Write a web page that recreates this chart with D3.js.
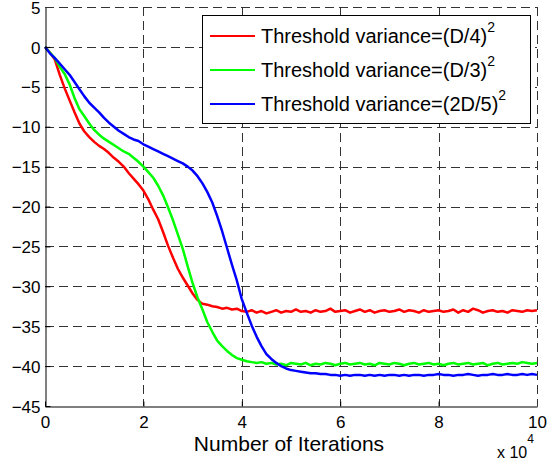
<!DOCTYPE html>
<html lang="en">
<head>
  <meta charset="UTF-8">
  <title>Threshold variance</title>
  <script src="https://cdnjs.cloudflare.com/ajax/libs/d3/7.8.5/d3.min.js"></script>
  <style>
    body { margin: 0; background: #fff; }
    text { font-family: "Liberation Sans", Arial, Helvetica, sans-serif; fill: #000; }
  </style>
</head>
<body>
  <svg width="558" height="463"></svg>
  <script>
    // iterations, in units of 10^4
    const iterations = [
      0.0, 0.1, 0.2, 0.3, 0.4, 0.5, 0.6, 0.7, 0.8, 0.9,
      1.0, 1.1, 1.2, 1.3, 1.4, 1.5, 1.6, 1.7, 1.8, 1.9,
      2.0, 2.1, 2.2, 2.3, 2.4, 2.5, 2.6, 2.7, 2.8, 2.9,
      3.0, 3.1, 3.2, 3.3, 3.4, 3.5, 3.6, 3.7, 3.8, 3.9,
      4.0, 4.1, 4.2, 4.3, 4.4, 4.5, 4.6, 4.7, 4.8, 4.9,
      5.0, 5.1, 5.2, 5.3, 5.4, 5.5, 5.6, 5.7, 5.8, 5.9,
      6.0, 6.1, 6.2, 6.3, 6.4, 6.5, 6.6, 6.7, 6.8, 6.9,
      7.0, 7.1, 7.2, 7.3, 7.4, 7.5, 7.6, 7.7, 7.8, 7.9,
      8.0, 8.1, 8.2, 8.3, 8.4, 8.5, 8.6, 8.7, 8.8, 8.9,
      9.0, 9.1, 9.2, 9.3, 9.4, 9.5, 9.6, 9.7, 9.8, 9.9,
      10.0
    ];

    // Threshold variance=(D/4)^2
    const redValues = [
      0, -0.7, -1.6, -3.5, -5.2, -6.7, -8.2, -9.6, -10.6, -11.3,
      -11.9, -12.4, -12.8, -13.3, -13.9, -14.4, -15.0, -15.8, -16.5, -17.2,
      -18.0, -19.1, -20.4, -21.6, -23.2, -24.9, -26.4, -27.8, -28.9, -29.9,
      -30.9, -31.7, -32.2, -32.3, -32.5, -32.6, -32.8, -32.7, -32.9, -32.8,
      -33.1, -33.2, -33.0, -33.3, -33.1, -33.4, -33.2, -33.0, -33.3, -33.1,
      -33.2, -32.9, -33.2, -33.1, -33.3, -33.0, -33.2, -33.1, -32.8, -33.2,
      -33.1, -33.0, -33.3, -33.1, -32.9, -33.2, -33.0, -33.3, -33.1, -33.0,
      -33.2, -33.1, -32.9, -33.2, -33.0, -33.1, -33.3, -33.0, -33.2, -33.1,
      -33.0, -33.2, -33.1, -32.9, -33.3, -33.0, -33.2, -32.8, -33.0, -33.3,
      -33.1, -33.0, -33.2, -33.1, -33.3, -33.0, -33.1, -33.2, -33.0, -33.1,
      -33.0
    ];

    // Threshold variance=(D/3)^2
    const greenValues = [
      0, -0.7, -1.4, -2.5, -3.4, -4.7, -6.4, -7.8, -8.7, -9.6,
      -10.4, -11.0, -11.5, -11.9, -12.3, -12.7, -13.1, -13.4, -13.9, -14.4,
      -15.0, -15.7, -16.4, -17.4, -18.6, -20.1, -21.7, -23.5, -25.3, -27.5,
      -29.6, -31.4, -32.9, -34.5, -35.7, -36.8, -37.5, -38.1, -38.6, -39.0,
      -39.2, -39.4, -39.5, -39.6, -39.5, -39.7, -39.6, -39.8, -39.7, -39.9,
      -39.6, -39.7, -39.8, -39.6, -39.9, -39.7, -39.8, -39.6, -39.7, -39.9,
      -39.7, -39.6, -39.8, -39.7, -39.6, -39.8, -39.7, -39.9, -39.6, -39.7,
      -39.8, -39.6, -39.7, -39.9, -39.7, -39.6, -39.8, -39.7, -39.6, -39.8,
      -39.7, -39.9, -39.7, -39.6, -39.8, -39.7, -39.6, -39.8, -39.7, -39.6,
      -39.9, -39.7, -39.6, -39.8, -39.7, -39.6, -39.7, -39.5, -39.6, -39.7,
      -39.6
    ];

    // Threshold variance=(2D/5)^2
    const blueValues = [
      0, -0.8, -1.4, -2.1, -2.8, -3.5, -4.4, -5.3, -6.2, -7.0,
      -7.6, -8.2, -8.9, -9.5, -10.0, -10.5, -10.9, -11.3, -11.6, -11.8,
      -12.2, -12.5, -12.8, -13.1, -13.4, -13.7, -14.0, -14.3, -14.6, -15.0,
      -15.5, -16.2, -17.1, -18.2, -19.5, -21.2, -23.1, -25.2, -27.3, -29.3,
      -31.6, -33.3, -34.9, -36.3, -37.5, -38.5, -39.1, -39.6, -40.0, -40.3,
      -40.5, -40.6, -40.7, -40.8, -40.9, -40.9, -41.0, -41.0, -41.1, -41.1,
      -41.2, -41.1, -41.2, -41.1, -41.1, -41.2, -41.1, -41.2, -41.1, -41.2,
      -41.1, -41.1, -41.2, -41.1, -41.2, -41.1, -41.1, -41.2, -41.1, -41.1,
      -41.0, -41.1, -41.1, -41.2, -41.1, -41.1, -41.0, -41.1, -41.2, -41.1,
      -41.1, -41.0, -41.1, -41.1, -41.0, -41.1, -41.1, -41.0, -41.1, -41.0,
      -41.1
    ];

    const xTicks = [0, 2, 4, 6, 8, 10];
    const yTicks = [5, 0, -5, -10, -15, -20, -25, -30, -35, -40, -45];
    const legendLabels = ['(D/4)', '(D/3)', '(2D/5)'];
    const colors = ['#ff0000', '#00ff00', '#0000ff'];

    const pLeft = 45, pRight = 537, pTop = 7, pBottom = 406;
    const svg = d3.select('svg');

    const x = d3.scaleLinear().domain([0, 10]).range([pLeft, pRight]);
    const y = d3.scaleLinear().domain([-45, 5]).range([pBottom, pTop]);

    // grid
    const grid = svg.append('g')
      .attr('stroke', '#333')
      .attr('stroke-width', 1)
      .attr('stroke-dasharray', '9,5');
    grid.selectAll('line.gx')
      .data(xTicks.slice(1))
      .enter()
      .append('line')
      .attr('class', 'gx')
      .attr('x1', d => Math.round(x(d)) + 0.5)
      .attr('x2', d => Math.round(x(d)) + 0.5)
      .attr('y1', pTop)
      .attr('y2', pBottom);
    grid.selectAll('line.gy')
      .data(yTicks.slice(0, -1))
      .enter()
      .append('line')
      .attr('class', 'gy')
      .attr('y1', d => Math.round(y(d)) + 0.5)
      .attr('y2', d => Math.round(y(d)) + 0.5)
      .attr('x1', pLeft)
      .attr('x2', pRight);

    // curves
    const series = [redValues, greenValues, blueValues];
    const line = d3.line()
      .x((d, i) => x(iterations[i]))
      .y(d => y(d));

    svg.append('g')
      .selectAll('path')
      .data(series)
      .enter()
      .append('path')
      .attr('d', d => line(d))
      .attr('fill', 'none')
      .attr('stroke', (d, i) => colors[i])
      .attr('stroke-width', 2.5)
      .attr('stroke-linejoin', 'round');

    // axes (ticks point inwards like matlab)
    const xAxis = svg.append('g')
      .attr('transform', `translate(0,${pBottom + 0.5})`)
      .call(d3.axisBottom(x).tickValues(xTicks).tickSizeInner(-5).tickSizeOuter(0).tickPadding(10));
    const yAxis = svg.append('g')
      .attr('transform', `translate(${pLeft + 0.5},0)`)
      .call(d3.axisLeft(y).tickValues(yTicks).tickSizeInner(-5).tickSizeOuter(0).tickPadding(10));

    [xAxis, yAxis].forEach(a => {
      a.select('.domain').attr('stroke', '#000').attr('stroke-width', 1);
      a.selectAll('.tick line').attr('stroke', '#000');
      a.selectAll('.tick text')
        .style('font-size', '17px')
        .style('font-family', '"Liberation Sans", Arial, sans-serif');
    });
    xAxis.selectAll('.tick text').attr('y', 6).attr('dy', '0.9em');
    yAxis.selectAll('.tick text').attr('x', -5).attr('dy', '0.36em');

    // top and right box edges
    svg.append('line')
      .attr('x1', pLeft).attr('x2', pRight)
      .attr('y1', pTop + 0.5).attr('y2', pTop + 0.5)
      .attr('stroke', '#333').attr('stroke-dasharray', '9,5');
    svg.append('line')
      .attr('x1', pRight + 0.5).attr('x2', pRight + 0.5)
      .attr('y1', pTop).attr('y2', pBottom)
      .attr('stroke', '#333').attr('stroke-dasharray', '9,5');

    // x label
    svg.append('text')
      .attr('x', 289)
      .attr('y', 451)
      .attr('text-anchor', 'middle')
      .style('font-size', '21px')
      .text('Number of Iterations');

    const mult = svg.append('text')
      .attr('x', 497)
      .attr('y', 458)
      .style('font-size', '16px');
    mult.append('tspan').text('x 10');
    mult.append('tspan').attr('dy', -15).style('font-size', '12px').text('4');

    // legend
    const legend = svg.append('g');
    legend.append('rect')
      .attr('x', 202.5).attr('y', 15.5)
      .attr('width', 328).attr('height', 108)
      .attr('fill', '#fff')
      .attr('stroke', '#000');

    const rows = legend.selectAll('g.row')
      .data(legendLabels)
      .enter()
      .append('g')
      .attr('class', 'row')
      .attr('transform', (d, i) => `translate(0,${36 + i * 34})`);
    rows.append('line')
      .attr('x1', 210).attr('x2', 255)
      .attr('y1', 0).attr('y2', 0)
      .attr('stroke', (d, i) => colors[i])
      .attr('stroke-width', 2);
    const lt = rows.append('text')
      .attr('x', 261)
      .attr('y', 7)
      .style('font-size', '20px');
    lt.append('tspan').text(d => 'Threshold variance=' + d);
    lt.append('tspan').attr('dy', -11).style('font-size', '14px').text('2');
  </script>
</body>
</html>
